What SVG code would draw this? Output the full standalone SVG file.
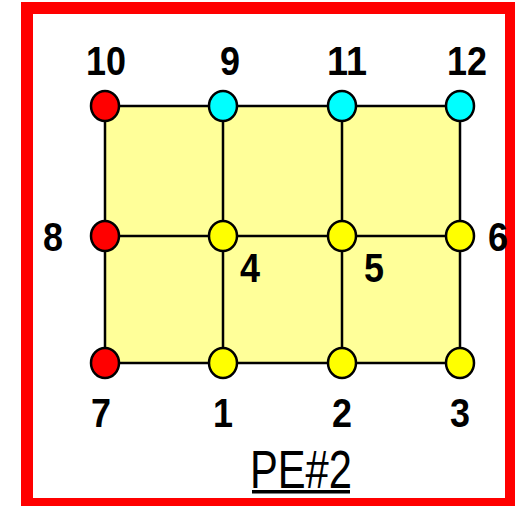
<svg xmlns="http://www.w3.org/2000/svg" width="515" height="506" viewBox="0 0 515 506">
<style>
.n{stroke:#000;stroke-width:2.5}
.r{fill:#FF0000}.c{fill:#00FFFF}.y{fill:#FFFF00}
.e{stroke:#000;stroke-width:2.5;fill:none}
text{font-family:"Liberation Sans",Arial,sans-serif;font-weight:bold;font-size:40px;fill:#000;text-anchor:middle}
text.t{font-size:53px;font-weight:normal}
</style>
<rect x="0" y="0" width="515" height="506" fill="#fff"/>
<rect x="27" y="8" width="484" height="496" fill="none" stroke="#FF0000" stroke-width="12"/>
<rect id="area" x="105" y="106" width="355" height="257" fill="#FFFF99"/>
<g id="connectors">
<line class="e" x1="105" y1="106" x2="460" y2="106"/>
<line class="e" x1="105" y1="236" x2="460" y2="236"/>
<line class="e" x1="105" y1="363" x2="460" y2="363"/>
<line class="e" x1="105" y1="106" x2="105" y2="363"/>
<line class="e" x1="223" y1="106" x2="223" y2="363"/>
<line class="e" x1="342" y1="106" x2="342" y2="363"/>
<line class="e" x1="460" y1="106" x2="460" y2="363"/>
</g>
<g id="node10"><ellipse class="n r" cx="105" cy="106" rx="14" ry="15"/><text x="106" y="75" textLength="40" lengthAdjust="spacingAndGlyphs">10</text></g>
<g id="node9"><ellipse class="n c" cx="223" cy="106" rx="14" ry="15"/><text x="230" y="75" textLength="20" lengthAdjust="spacingAndGlyphs">9</text></g>
<g id="node11"><ellipse class="n c" cx="342" cy="106" rx="14" ry="15"/><text x="347" y="75" textLength="40" lengthAdjust="spacingAndGlyphs">11</text></g>
<g id="node12"><ellipse class="n c" cx="460" cy="106" rx="14" ry="15"/><text x="467" y="75" textLength="40" lengthAdjust="spacingAndGlyphs">12</text></g>
<g id="node8"><ellipse class="n r" cx="105" cy="236" rx="14" ry="15"/><text x="53" y="251" textLength="20" lengthAdjust="spacingAndGlyphs">8</text></g>
<g id="node4"><ellipse class="n y" cx="223" cy="236" rx="14" ry="15"/><text x="250" y="282" textLength="20" lengthAdjust="spacingAndGlyphs">4</text></g>
<g id="node5"><ellipse class="n y" cx="342" cy="236" rx="14" ry="15"/><text x="374" y="282" textLength="20" lengthAdjust="spacingAndGlyphs">5</text></g>
<g id="node6"><ellipse class="n y" cx="460" cy="236" rx="14" ry="15"/><text x="498" y="251" textLength="20" lengthAdjust="spacingAndGlyphs">6</text></g>
<g id="node7"><ellipse class="n r" cx="105" cy="363" rx="14" ry="15"/><text x="101" y="427" textLength="20" lengthAdjust="spacingAndGlyphs">7</text></g>
<g id="node1"><ellipse class="n y" cx="223" cy="363" rx="14" ry="15"/><text x="223" y="427" textLength="20" lengthAdjust="spacingAndGlyphs">1</text></g>
<g id="node2"><ellipse class="n y" cx="342" cy="363" rx="14" ry="15"/><text x="342" y="427" textLength="20" lengthAdjust="spacingAndGlyphs">2</text></g>
<g id="node3"><ellipse class="n y" cx="460" cy="363" rx="14" ry="15"/><text x="460" y="427" textLength="20" lengthAdjust="spacingAndGlyphs">3</text></g>
<g id="title"><text class="t" x="301" y="488" textLength="102" lengthAdjust="spacingAndGlyphs">PE#2</text><rect x="252" y="490" width="98" height="3.5" fill="#000"/></g>
</svg>
